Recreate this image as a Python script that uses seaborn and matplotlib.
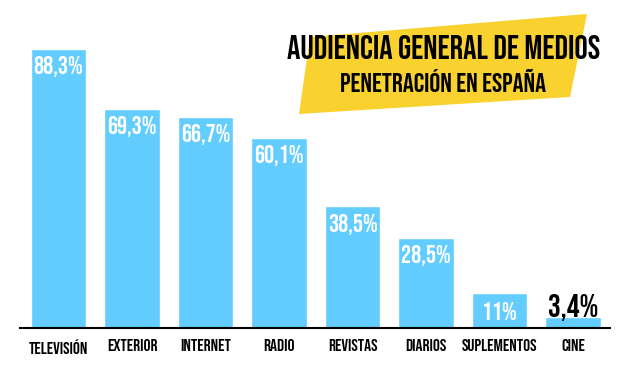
import matplotlib
matplotlib.use("Agg")
import matplotlib.pyplot as plt
from matplotlib.patches import Polygon
import seaborn as sns

# data
categories = ["TELEVISIÓN", "EXTERIOR", "INTERNET", "RADIO", "REVISTAS",
              "DIARIOS", "SUPLEMENTOS", "CINE"]
values = [88.3, 69.3, 66.7, 60.1, 38.5, 28.5, 11.0, 3.4]
value_labels = ["88,3%", "69,3%", "66,7%", "60,1%", "38,5%", "28,5%", "11%", "3,4%"]
title = "AUDIENCIA GENERAL DE MEDIOS"
subtitle = "PENETRACIÓN EN ESPAÑA"

bar_color = "#62CDFE"
yellow = "#F9D22F"

sns.set_theme(style="white")
plt.rcParams["font.family"] = ["Bebas Neue", "DejaVu Sans"]

fig = plt.figure(figsize=(6.2, 3.74), dpi=100)
ax = fig.add_axes([20 / 620, 46 / 374, 590 / 620, 328 / 374])

sns.barplot(x=categories, y=values, color=bar_color, saturation=1,
            width=0.76, ax=ax)

ax.set_ylim(0, 103.8)
ax.set_xlim(-0.524, 7.503)
for s in ["top", "right", "left"]:
    ax.spines[s].set_visible(False)
ax.spines["bottom"].set_color("black")
ax.spines["bottom"].set_linewidth(1.5)
ax.set_yticks([])
ax.set_xlabel("")
ax.set_ylabel("")
ax.tick_params(axis="x", length=0, pad=8)
for lab in ax.get_xticklabels():
    lab.set_fontsize(12.5)
    lab.set_color("black")

# value labels, inside the bars except for the tiny one
for i, (v, lab) in enumerate(zip(values, value_labels)):
    if v > 8:
        ax.text(i, v - 5.6, lab, ha="center", va="center", color="white",
                fontsize=18)
    else:
        ax.text(i, v, lab, ha="center", va="baseline", color="black",
                fontsize=23)

# yellow banner behind the title
pts = [(310, 37), (587, 14), (570, 97), (299, 114)]
fig.patches.append(Polygon([(x / 620, 1 - y / 374) for x, y in pts], closed=True,
                           transform=fig.transFigure, facecolor=yellow,
                           edgecolor="none", zorder=3))
fig.text(443.5 / 620, 1 - 47 / 374, title, ha="center", va="center",
         fontsize=24, color="black", zorder=4)
fig.text(443 / 620, 1 - 80 / 374, subtitle, ha="center", va="center",
         fontsize=19.5, color="black", zorder=4)

fig.savefig("out.png", dpi=100)
